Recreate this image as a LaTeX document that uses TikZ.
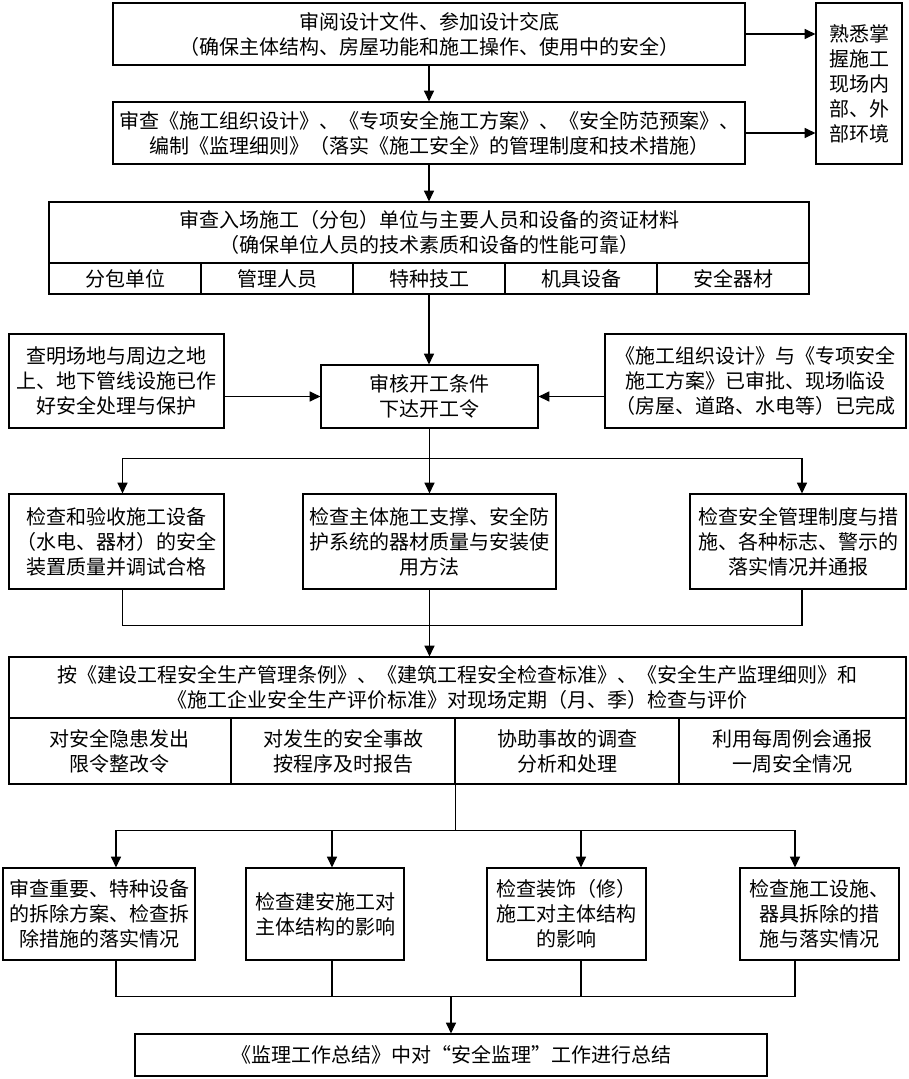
\documentclass[tikz,border=0pt]{standalone}
\usepackage{fontspec}
\setmainfont{Noto Sans CJK SC}
\usetikzlibrary{arrows.meta,calc}

\begin{document}
\begin{tikzpicture}[
    x=0.75pt, y=-0.75pt,
    block/.style={rectangle, draw, line width=0.9pt, inner sep=0pt, align=center, font=\fontsize{15pt}{18.75pt}\selectfont},
    cell/.style={block, minimum height=23.25pt, minimum width=114pt},
    part/.style={block, minimum height=49.5pt},
    arrow/.style={-{Triangle[length=8pt,width=7.5pt]}, line width=0.9pt},
    link/.style={line width=0.9pt}
]
\useasboundingbox (0,0) rectangle (908,1079);

\node[block, minimum width=474pt, minimum height=46.5pt] (design) at (429,34) {审阅设计文件、参加设计交底\\（确保主体结构、房屋功能和施工操作、使用中的安全）};
\node[block, minimum width=474pt, minimum height=46.5pt] (plan) at (429,133) {审查《施工组织设计》、《专项安全施工方案》、《安全防范预案》、\\编制《监理细则》（落实《施工安全》的管理制度和技术措施）};
\node[block, minimum width=64.5pt, minimum height=120.75pt] (site) at (859,83.5) {熟悉掌\\握施工\\现场内\\部、外\\部环境};

\node[block, minimum width=570pt, minimum height=45.75pt] (qual) at (429,232.5) {审查入场施工（分包）单位与主要人员和设备的资证材料\\（确保单位人员的技术素质和设备的性能可靠）};
\node[cell] (sub) at (125,278.5) {分包单位};
\node[cell] (staff) at (277,278.5) {管理人员};
\node[cell] (skill) at (429,278.5) {特种技工};
\node[cell] (mach) at (581,278.5) {机具设备};
\node[cell] (gear) at (733,278.5) {安全器材};

\node[block, minimum width=161.25pt, minimum height=70.5pt] (ground) at (116.5,381) {查明场地与周边之地\\上、地下管线设施已作\\好安全处理与保护};
\node[block, minimum width=162.75pt, minimum height=47.25pt] (start) at (429.5,396.5) {审核开工条件\\下达开工令};
\node[block, minimum width=225.75pt, minimum height=70.5pt] (approv) at (755.5,381) {《施工组织设计》与《专项安全\\施工方案》已审批、现场临设\\（房屋、道路、水电等）已完成};

\node[block, minimum width=161.25pt, minimum height=71.25pt] (equip) at (116.5,541.5) {检查和验收施工设备\\（水电、器材）的安全\\装置质量并调试合格};
\node[block, minimum width=189.75pt, minimum height=71.25pt] (protect) at (429.5,541.5) {检查主体施工支撑、安全防\\护系统的器材质量与安装使\\用方法};
\node[block, minimum width=162pt, minimum height=71.25pt] (rules) at (798,541.5) {检查安全管理制度与措\\施、各种标志、警示的\\落实情况并通报};

\node[block, minimum width=672.75pt, minimum height=45.75pt] (check) at (457.5,687.5) {按《建设工程安全生产管理条例》、《建筑工程安全检查标准》、《安全生产监理细则》和\\《施工企业安全生产评价标准》对现场定期（月、季）检查与评价};
\node[part, minimum width=166.5pt] (warn) at (120,751) {对安全隐患发出\\限令整改令};
\node[part, minimum width=168pt] (report) at (343,751) {对发生的安全事故\\按程序及时报告};
\node[part, minimum width=168pt] (assist) at (567,751) {协助事故的调查\\分析和处理};
\node[part, minimum width=170.25pt] (weekly) at (792.5,751) {利用每周例会通报\\一周安全情况};

\node[block, minimum width=144pt, minimum height=69pt] (dism) at (99,914) {审查重要、特种设备\\的拆除方案、检查拆\\除措施的落实情况};
\node[block, minimum width=118.5pt, minimum height=69pt] (build) at (325,914) {检查建安施工对\\主体结构的影响};
\node[block, minimum width=119.25pt, minimum height=69pt] (deco) at (566.5,914) {检查装饰（修）\\施工对主体结构\\的影响};
\node[block, minimum width=119.25pt, minimum height=69pt] (tools) at (819.5,914) {检查施工设施、\\器具拆除的措\\施与落实情况};

\node[block, minimum width=474pt, minimum height=31.5pt] (summary) at (451,1055) {《监理工作总结》中对“安全监理”工作进行总结};

\coordinate (split) at ($(start.south)+(0,30)$);
\coordinate (join) at ($(protect.south)+(0,36)$);
\coordinate (fork) at ($(report.south east)+(0,46)$);
\coordinate (gather) at ($(summary.north)+(0,-37)$);

\draw[arrow] (design) -- (plan);
\draw[arrow] (plan) -- (qual);
\draw[arrow] (design.east) -- (design.east -| site.west);
\draw[arrow] (plan.east) -- (plan.east -| site.west);
\draw[arrow] (skill.south) -- (skill.south |- start.north);
\draw[arrow] (start.west -| ground.east) -- (start.west);
\draw[arrow] (start.east -| approv.west) -- (start.east);

\draw[link] (start) -- (split);
\draw[arrow] (split) -| ($(equip.north)+(6,0)$);
\draw[arrow] (split) -- (split |- protect.north);
\draw[arrow] (split) -| ($(rules.north)+(4,0)$);

\draw[link] ($(equip.south)+(6,0)$) |- (join);
\draw[link] ($(rules.south)+(4,0)$) |- (join);
\draw[link] (protect.south) -- (join);
\draw[arrow] (join) -- (join |- check.north);

\draw[link] (report.south east) -- (fork);
\draw[arrow] (fork) -| ($(dism.north)+(17,0)$);
\draw[arrow] (fork) -| ($(build.north)+(7,0)$);
\draw[arrow] (fork) -| ($(deco.north)+(14.5,0)$);
\draw[arrow] (fork) -| ($(tools.north)+(-24.5,0)$);

\draw[link] ($(dism.south)+(17,0)$) |- (gather);
\draw[link] ($(build.south)+(7,0)$) |- (gather);
\draw[link] ($(deco.south)+(14.5,0)$) |- (gather);
\draw[link] ($(tools.south)+(-24.5,0)$) |- (gather);
\draw[arrow] (gather) -- (summary);
\end{tikzpicture}
\end{document}
